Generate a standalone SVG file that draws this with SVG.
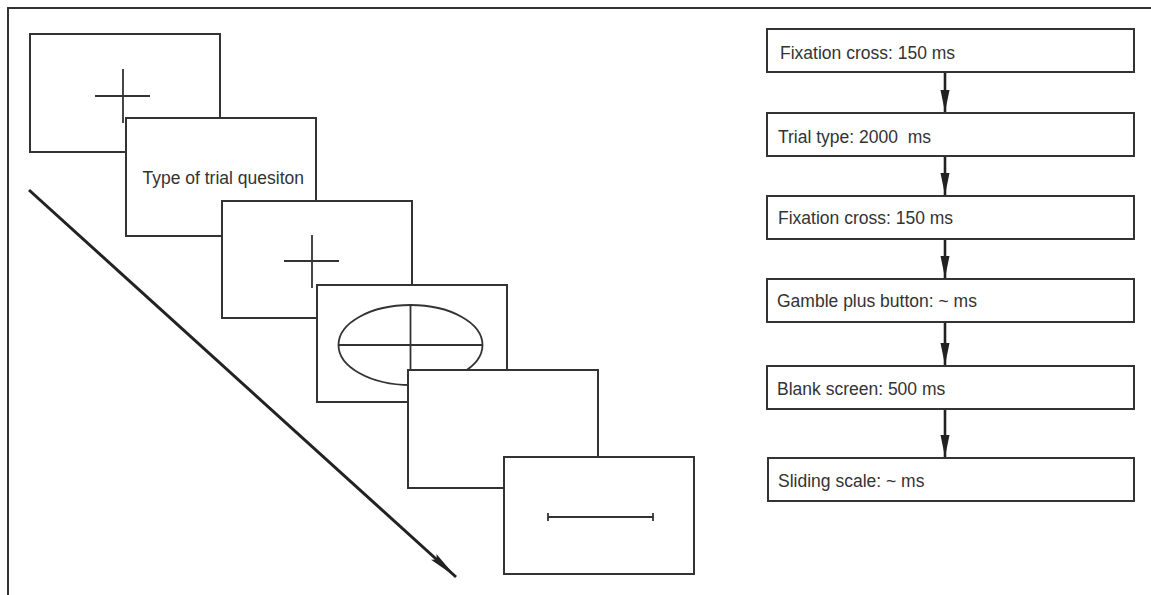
<svg xmlns="http://www.w3.org/2000/svg" width="1151" height="595" viewBox="0 0 1151 595">
<style>
.scr{fill:#fff;stroke:#333;stroke-width:2}
.ln{fill:none;stroke:#333;stroke-width:1.8}
.box{fill:#fff;stroke:#333;stroke-width:2}
.t{font-family:"Liberation Sans",Arial,sans-serif;font-size:17.5px;fill:#333}
.arr{fill:none;stroke:#222;stroke-width:2.6}
</style>
<defs>
<marker id="ah" markerUnits="userSpaceOnUse" markerWidth="22" markerHeight="10" refX="22" refY="5" orient="auto">
<path d="M0,0.5 L22,5 L0,9.5 z" fill="#222"/>
</marker>
<marker id="ahd" markerUnits="userSpaceOnUse" markerWidth="30" markerHeight="10" refX="30" refY="5" orient="auto">
<path d="M0,1 L30,5 L0,9 L4,5 z" fill="#222"/>
</marker>
</defs>
<rect width="1151" height="595" fill="#fff"/>
<path d="M8,595 V8 H1151" fill="none" stroke="#333" stroke-width="2"/>

<g id="screen1">
<rect class="scr" x="30" y="34" width="190" height="118"/>
<path class="ln" d="M95,96 H150 M123,69 V123"/>
</g>
<g id="screen2">
<rect class="scr" x="126" y="118" width="190" height="118"/>
<text class="t" x="142.5" y="184">Type of trial quesiton</text>
</g>
<g id="screen3">
<rect class="scr" x="222" y="201" width="190" height="117"/>
<path class="ln" d="M284,261 H339 M312,235 V288"/>
</g>
<g id="screen4">
<rect class="scr" x="317" y="285" width="190" height="117"/>
<ellipse class="ln" cx="410.5" cy="345" rx="72" ry="40"/>
<path class="ln" d="M338.5,345 H482.5 M410.5,305 V385"/>
</g>
<g id="screen5">
<rect class="scr" x="408" y="370" width="190" height="118"/>
</g>
<g id="screen6">
<rect class="scr" x="504" y="457" width="190" height="117"/>
<path class="ln" d="M548,517 H653 M548,513 V521 M653,513 V521"/>
</g>

<g id="flow1"><rect class="box" x="767" y="29" width="367" height="43"/><text class="t" x="780" y="59">Fixation cross: 150 ms</text></g>
<g id="flow2"><rect class="box" x="767" y="113" width="367" height="43"/><text class="t" x="778" y="143" xml:space="preserve">Trial type: 2000  ms</text></g>
<g id="flow3"><rect class="box" x="767" y="196" width="367" height="43"/><text class="t" x="778" y="224">Fixation cross: 150 ms</text></g>
<g id="flow4"><rect class="box" x="767" y="279" width="367" height="43"/><text class="t" x="777" y="307">Gamble plus button: ~ ms</text></g>
<g id="flow5"><rect class="box" x="767" y="366" width="367" height="43"/><text class="t" x="777" y="395">Blank screen: 500 ms</text></g>
<g id="flow6"><rect class="box" x="768" y="458" width="366" height="43"/><text class="t" x="778" y="487">Sliding scale: ~ ms</text></g>

<g id="connectors">
<line class="arr" x1="945" y1="73" x2="945" y2="112" marker-end="url(#ah)"/>
<line class="arr" x1="945" y1="157" x2="945" y2="195" marker-end="url(#ah)"/>
<line class="arr" x1="945" y1="240" x2="945" y2="278" marker-end="url(#ah)"/>
<line class="arr" x1="945" y1="323" x2="945" y2="365" marker-end="url(#ah)"/>
<line class="arr" x1="945" y1="410" x2="945" y2="457" marker-end="url(#ah)"/>
<line x1="29" y1="190" x2="456" y2="577" stroke="#222" stroke-width="3" marker-end="url(#ahd)"/>
</g>
</svg>
